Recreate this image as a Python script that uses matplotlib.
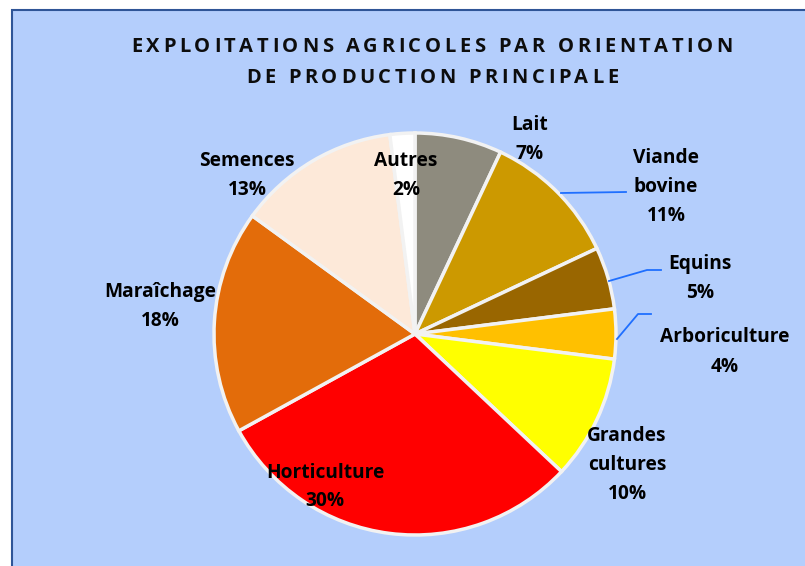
import matplotlib.pyplot as plt
from matplotlib.patches import Rectangle

# données
categories = ['Lait', 'Viande bovine', 'Equins', 'Arboriculture', 'Grandes cultures',
              'Horticulture', 'Maraîchage', 'Semences', 'Autres']
values = [7, 11, 5, 4, 10, 30, 18, 13, 2]
label_text = ['Lait', 'Viande\nbovine', 'Equins', 'Arboriculture', 'Grandes\ncultures',
              'Horticulture', 'Maraîchage', 'Semences', 'Autres']
colors = ['#8E8B7E', '#CC9900', '#996600', '#FFC000', '#FFFF00',
          '#FF0000', '#E36C0A', '#FDE9D9', '#FFFFFF']
title_lines = ['EXPLOITATIONS AGRICOLES PAR ORIENTATION', 'DE PRODUCTION PRINCIPALE']

W, H = 805, 566
cx, cy, R = 415, 334, 201   # centre / rayon du camembert en pixels

fig = plt.figure(figsize=(W / 100, H / 100), dpi=100)
fig.patch.set_facecolor('white')

ax = fig.add_axes([0, 0, 1, 1])
ax.pie(values, colors=colors, startangle=90, counterclock=False, radius=1,
       wedgeprops=dict(edgecolor='#F2F2F2', linewidth=2.5))
ax.set_aspect('auto')
ax.set_xlim(-cx / R, (W - cx) / R)
ax.set_ylim(-(H - cy) / R, cy / R)
ax.axis('off')

# fond bleu avec bordure
ax.add_patch(Rectangle((12 / W, -0.05), 1.0, (H - 10) / H + 0.05,
                       transform=ax.transAxes, facecolor='#B4CEFC',
                       edgecolor='#2F5597', linewidth=1.5, zorder=-5,
                       clip_on=False))

def px(x, y):
    return (x - cx) / R, (cy - y) / R

# positions des étiquettes (pixels)
label_pos = [(530, 139), (666, 187), (700, 278), (725, 352), (627, 465),
             (325, 487), (160, 306), (247, 175), (406, 175)]
for name, v, (x, y) in zip(label_text, values, label_pos):
    ax.text(*px(x, y), f'{name}\n{v}%', ha='center', va='center',
            fontsize=13.8, fontweight='bold', family='Open Sans',
            linespacing=1.6, color='black')

# lignes de rappel
leaders = [[(561, 193), (626, 192)],
           [(609, 281), (647, 270), (661, 270)],
           [(617, 339), (638, 314), (651, 314)]]
for pts in leaders:
    xs, ys = zip(*[px(x, y) for x, y in pts])
    ax.plot(xs, ys, color='#1F6FFF', linewidth=1.3)

# titre avec espacement des lettres
renderer = fig.canvas.get_renderer()
tstyle = dict(fontsize=14.5, fontweight='bold', family='Open Sans', color='#0D0D0D')
spacing = 3.6
for line, yc in zip(title_lines, [47, 78]):
    widths = []
    for ch in line:
        if ch == ' ':
            widths.append(5.5)
            continue
        t = fig.text(0, 0, ch, **tstyle)
        widths.append(t.get_window_extent(renderer).width)
        t.remove()
    total = sum(widths) + spacing * (len(line) - 1)
    x = 432 - total / 2
    for ch, w in zip(line, widths):
        if ch != ' ':
            fig.text(x / W, 1 - yc / H, ch, ha='left', va='center', **tstyle)
        x += w + spacing

fig.savefig('out.png', dpi=100)
